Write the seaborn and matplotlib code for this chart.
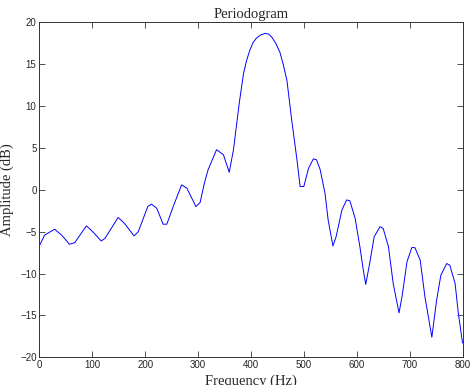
import seaborn as sns
import pandas as pd
import matplotlib
import matplotlib.pyplot as plt
matplotlib.use('Agg')

# values
freq = [0, 10, 29, 42, 57, 67, 89, 101, 117, 124, 149, 161, 179, 187, 205,
        212, 222, 234, 241, 253, 269, 279, 296, 304, 312, 319, 335, 348, 359,
        367, 378, 386, 392, 398, 404, 410, 418, 427, 434, 440, 447, 455, 461,
        468, 477, 487, 493, 500, 509, 518, 524, 531, 540, 546, 555, 561, 572,
        581, 587, 597, 606, 612, 617, 625, 633, 644, 650, 660, 669, 680, 686,
        695, 704, 710, 720, 729, 742, 751, 759, 770, 776, 786, 792, 800]
amp = [-6.7, -5.4, -4.7, -5.4, -6.5, -6.3, -4.3, -5.0, -6.1, -5.8, -3.3,
       -4.0, -5.5, -5.0, -2.0, -1.7, -2.2, -4.1, -4.1, -2.0, 0.6, 0.2, -2.0,
       -1.5, 0.8, 2.4, 4.8, 4.2, 2.1, 4.8, 10.4, 13.9, 15.5, 16.7, 17.6, 18.1,
       18.5, 18.7, 18.6, 18.2, 17.5, 16.4, 15.0, 13.1, 8.4, 3.6, 0.4, 0.4,
       2.6, 3.7, 3.6, 2.4, -0.4, -3.6, -6.7, -5.6, -2.4, -1.2, -1.3, -3.4,
       -6.8, -9.4, -11.3, -8.6, -5.6, -4.4, -4.6, -6.8, -11.2, -14.7, -12.6,
       -8.6, -6.9, -6.9, -8.4, -12.8, -17.6, -13.2, -10.2, -8.8, -9.0, -11.2,
       -14.7, -18.3]

df = pd.DataFrame({"Frequency": freq, "Amplitude": amp})

sns.set_style("ticks", {"xtick.direction": "in", "ytick.direction": "in"})
plt.rcParams['font.family'] = ['Liberation Sans', 'DejaVu Sans']

fig = plt.figure(figsize=(4.71, 3.85), dpi=100)
ax = fig.add_axes([0.0835, 0.072, 0.8985, 0.8696])
sns.lineplot(data=df, x="Frequency", y="Amplitude", ax=ax,
             color="#0000ff", lw=0.7)

ax.set_xlim(0, 800)
ax.set_ylim(-20, 20)
ax.set_xticks(range(0, 801, 100))
ax.set_yticks(range(-20, 21, 5))
ax.tick_params(axis='both', which='major', labelsize=7, length=4,
               width=0.6, color="#333333", top=True, right=True, pad=2)
for s in ax.spines.values():
    s.set_linewidth(0.7)
    s.set_color("#333333")

serif = ['Liberation Serif', 'DejaVu Serif']
ax.set_title("Periodogram", family=serif, fontsize=10.5, pad=3)
ax.set_xlabel("Frequency (Hz)", family=serif, fontsize=10.5, labelpad=3)
ax.set_ylabel("Amplitude (dB)", family=serif, fontsize=10.5, labelpad=4)

fig.savefig("out.png", dpi=100)
